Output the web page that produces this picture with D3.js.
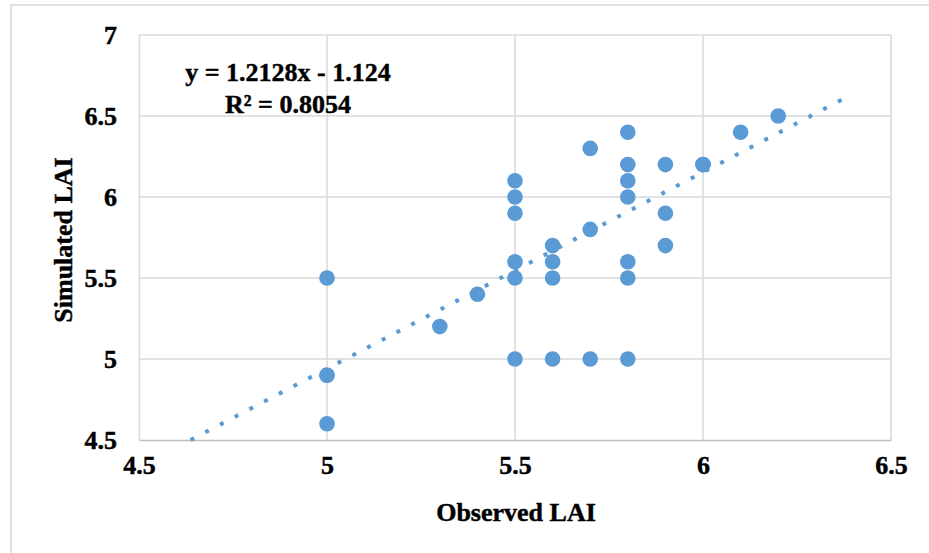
<!DOCTYPE html>
<html>
<head>
<meta charset="utf-8">
<script src="https://cdn.jsdelivr.net/npm/d3@7"></script>
<style>
  body { margin: 0; background: #fff; }
  text { font-family: "Liberation Serif", "Times New Roman", serif; font-weight: bold; fill: #000; stroke: #000; stroke-width: 0.45px; }
</style>
</head>
<body>
<div id="chart"></div>
<script>
// observed vs simulated LAI
var observed  = [5, 5, 5, 5, 5.3, 5.4, 5.5, 5.5, 5.5, 5.5, 5.5, 5.5, 5.6, 5.6, 5.6, 5.6,
                 5.7, 5.7, 5.7, 5.8, 5.8, 5.8, 5.8, 5.8, 5.8, 5.8, 5.9, 5.9, 5.9, 6.0, 6.0, 6.1, 6.2];
var simulated = [5.5, 4.9, 4.9, 4.6, 5.2, 5.4, 6.1, 6.0, 5.9, 5.6, 5.5, 5.0, 5.7, 5.6, 5.5, 5.0,
                 6.3, 5.8, 5.0, 6.4, 6.2, 6.1, 6.0, 5.6, 5.5, 5.0, 6.2, 5.9, 5.7, 6.2, 6.2, 6.4, 6.5];
var xTicks = [4.5, 5, 5.5, 6, 6.5];
var yTicks = [4.5, 5, 5.5, 6, 6.5, 7];
var trend = { slope: 1.2128, intercept: -1.124, xEnd: 6.38 };
var eqLabels = ["y = 1.2128x - 1.124", "R² = 0.8054"];

var W = 929, H = 553;
var margin = { top: 35, right: 38, bottom: 113, left: 139 },
    width = W - margin.left - margin.right,
    height = H - margin.top - margin.bottom;

var svg = d3.select("#chart").append("svg")
    .attr("width", W)
    .attr("height", H);

// outer chart border
svg.append("rect")
    .attr("x", 11).attr("y", 5)
    .attr("width", W + 20).attr("height", H + 20)
    .attr("fill", "none")
    .attr("stroke", "#d9d9d9")
    .attr("stroke-width", 1.5);

var g = svg.append("g")
    .attr("transform", "translate(" + margin.left + "," + margin.top + ")");

var x = d3.scaleLinear().domain([4.5, 6.5]).range([0, width]);
var y = d3.scaleLinear().domain([4.5, 7]).range([height, 0]);

// gridlines
g.selectAll(".vgrid").data(xTicks.slice(1)).enter().append("line")
    .attr("x1", function(d) { return x(d); })
    .attr("x2", function(d) { return x(d); })
    .attr("y1", 0).attr("y2", height)
    .attr("stroke", "#d9d9d9").attr("stroke-width", 1.5);

g.selectAll(".hgrid").data(yTicks.slice(1)).enter().append("line")
    .attr("x1", 0).attr("x2", width)
    .attr("y1", function(d) { return y(d); })
    .attr("y2", function(d) { return y(d); })
    .attr("stroke", "#d9d9d9").attr("stroke-width", 1.5);

// axes
var xAxis = g.append("g")
    .attr("transform", "translate(0," + height + ")")
    .call(d3.axisBottom(x).tickValues(xTicks).tickSize(0).tickPadding(16).tickFormat(d3.format("")));
xAxis.select(".domain").attr("stroke", "#bfbfbf").attr("stroke-width", 1.5);
xAxis.selectAll("text").attr("font-size", 26).attr("dy", "0.71em");

var yAxis = g.append("g")
    .call(d3.axisLeft(y).tickValues(yTicks).tickSize(0).tickPadding(22).tickFormat(d3.format("")));
yAxis.select(".domain").attr("stroke", "#d9d9d9").attr("stroke-width", 1.5);
yAxis.selectAll("text").attr("font-size", 26);

// trendline
var x0 = (4.5 - trend.intercept) / trend.slope;
g.append("path")
    .datum([x0, trend.xEnd])
    .attr("fill", "none")
    .attr("stroke", "#5b9bd5")
    .attr("stroke-width", 4)
    .attr("stroke-dasharray", "4 12.6")
    .attr("d", d3.line()
        .x(function(d) { return x(d); })
        .y(function(d) { return y(trend.slope * d + trend.intercept); })
    );

// points
g.selectAll(".pt").data(observed).enter().append("circle")
    .attr("cx", function(d) { return x(d); })
    .attr("cy", function(d, i) { return y(simulated[i]); })
    .attr("r", 7.8)
    .attr("fill", "#5b9bd5");

// equation
svg.selectAll(".eq").data(eqLabels).enter().append("text")
    .attr("x", 288)
    .attr("y", function(d, i) { return 81 + i * 32; })
    .attr("text-anchor", "middle")
    .attr("font-size", 26)
    .text(function(d) { return d; });

// axis titles
svg.append("text")
    .attr("x", 516).attr("y", 521)
    .attr("text-anchor", "middle")
    .attr("font-size", 26)
    .text("Observed LAI");

svg.append("text")
    .attr("transform", "translate(72,240) rotate(-90)")
    .attr("text-anchor", "middle")
    .attr("font-size", 26)
    .text("Simulated LAI");
</script>
</body>
</html>
